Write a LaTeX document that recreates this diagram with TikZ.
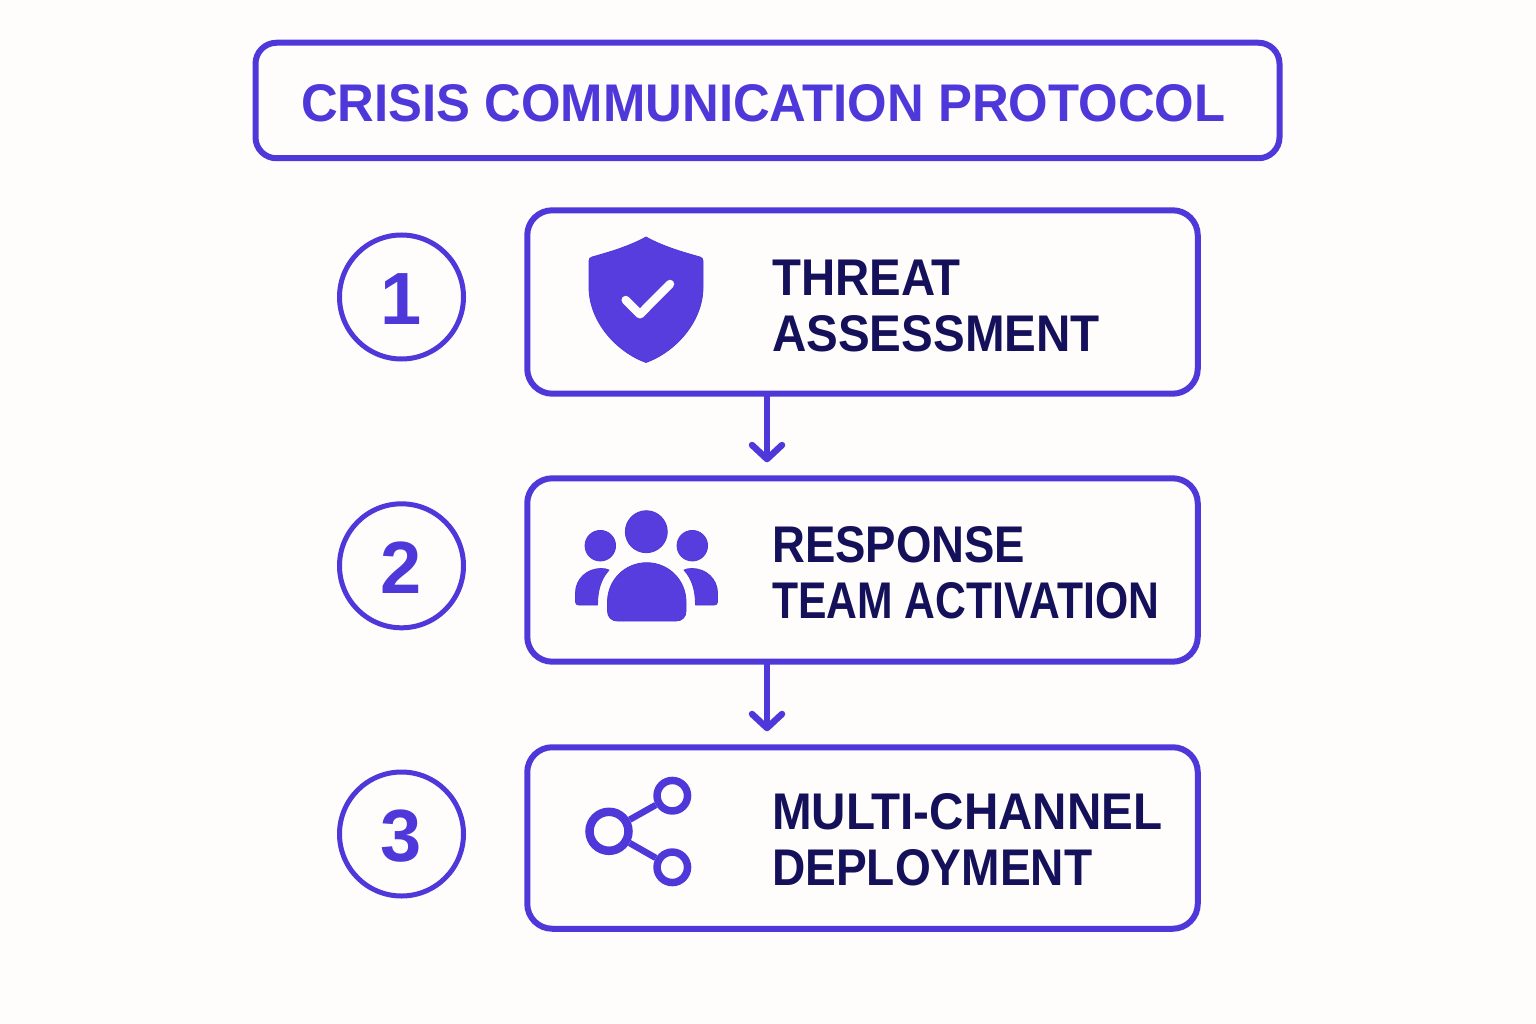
\documentclass[tikz,border=0pt]{standalone}
\usepackage{fontspec}
\usepackage{graphicx}
\setmainfont{Liberation Sans}
\usetikzlibrary{arrows.meta}
\definecolor{bgc}{HTML}{FEFDFB}
\definecolor{vio}{HTML}{4F38D9}
\definecolor{vfill}{HTML}{573DDD}
\definecolor{ink}{HTML}{15105A}
\newcommand{\fitline}[3]{\resizebox{#1pt}{#2pt}{\bfseries #3}}
\tikzset{
  x=1pt,y=-1pt,
  panel/.style={draw=vio,line width=6pt,rounded corners=25pt,fill=none,minimum width=670.5pt,minimum height=183.4pt,inner sep=0pt},
  titlebox/.style={draw=vio,line width=6pt,rounded corners=21pt,minimum width=1024pt,minimum height=115.5pt,inner sep=0pt},
  numring/.style={draw=vio,line width=5pt,circle,minimum size=124pt,inner sep=0pt,text=vio,text height=55pt,text depth=0pt,font=\fontsize{74}{74}\selectfont\bfseries},
  label/.style={anchor=west,align=left,inner sep=0pt,text=ink,font=\fontsize{45}{56}\selectfont},
  flow/.style={draw=vio,line width=6pt,line cap=round,-{Straight Barb[length=14pt,width=30pt,line width=6.5pt,round]},shorten >=13pt},
  iconfill/.style={fill=vfill,draw=vio,line width=.8pt,line join=round},
  sharebig/.style={circle,draw=vio,line width=8.5pt,minimum size=39pt,inner sep=0pt},
  sharesmall/.style={circle,draw=vio,line width=7.5pt,minimum size=30.5pt,inner sep=0pt},
  shareline/.style={draw=vio,line width=6.5pt},
}
\begin{document}
\begin{tikzpicture}
\fill[bgc] (0,0) rectangle (1536,1024);
\useasboundingbox (0,0) rectangle (1536,1024);

\node[titlebox] (title) at (767.5,100.5) {};
\node[anchor=base west,inner sep=0pt,text=vio] (titletext) at (301,122) {\fitline{924}{37}{CRISIS COMMUNICATION PROTOCOL}};

\node[panel] (box1) at (862.5,302) {};
\node[panel] (box2) at (862.5,570) {};
\node[panel,minimum height=181.5pt] (box3) at (862.5,838) {};

\node[numring] (n1) at (401.5,297) {1};
\node[numring] (n2) at (401.5,565.8) {2};
\node[numring] (n3) at (401.5,834) {3};

\coordinate (ax) at (767,0);
\draw[flow] (box1.south -| ax) -- (box2.north -| ax);
\draw[flow] (box2.south -| ax) -- (box3.north -| ax);

\node[label] (l1) at (772,305.5) {\fitline{188.5}{35.5}{THREAT}\\\fitline{327.5}{36}{ASSESSMENT}};
\node[label] (l2) at (772,572.3) {\fitline{253}{36}{RESPONSE}\\\fitline{387}{36}{TEAM ACTIVATION}};
\node[label] (l3) at (772,840) {\fitline{390}{36}{MULTI-CHANNEL}\\\fitline{320}{36}{DEPLOYMENT}};

% shield
\path[iconfill] (646,237) .. controls (662,246) and (682,252) .. (700,257)
  .. controls (702,257.5) and (703,259) .. (703,261)
  -- (703,287) .. controls (703,322) and (675,352) .. (646,362.5)
  .. controls (617,352) and (589,322) .. (589,287)
  -- (589,261) .. controls (589,259) and (590,257.5) .. (592,257)
  .. controls (610,252) and (630,246) .. (646,237) -- cycle;
\draw[bgc,line width=8.5pt,line cap=round,line join=round] (625.7,300) -- (640,314.3) -- (670,284);

% people
\path[iconfill] (646.3,531.7) circle[radius=21];
\path[iconfill] (600.3,545.7) circle[radius=15.3];
\path[iconfill] (692.3,545.7) circle[radius=15.3];
\path[iconfill] (607.5,602) .. controls (607.5,580) and (625,562.7) .. (646.7,562.7)
  .. controls (668.5,562.7) and (686,580) .. (686,602)
  -- (686,611) .. controls (686,617) and (682,621) .. (676,621)
  -- (617.5,621) .. controls (611.5,621) and (607.5,617) .. (607.5,611) -- cycle;
\path[iconfill] (575.5,593) .. controls (575.5,579) and (587,568.5) .. (601,568.5)
  .. controls (604,568.5) and (607,569) .. (609,570)
  .. controls (601,579) and (597.5,590) .. (597.5,605)
  -- (579,605) .. controls (577,605) and (575.5,604) .. (575.5,602) -- cycle;
\path[iconfill] (717.5,593) .. controls (717.5,579) and (706,568.5) .. (692,568.5)
  .. controls (689,568.5) and (686,569) .. (684,570)
  .. controls (692,579) and (695.5,590) .. (695.5,605)
  -- (714,605) .. controls (716,605) and (717.5,604) .. (717.5,602) -- cycle;

% share
\node[sharebig] (hub) at (609,831.3) {};
\node[sharesmall] (up) at (672.3,795.7) {};
\node[sharesmall] (down) at (672.3,867.3) {};
\draw[shareline] (hub) -- (up);
\draw[shareline] (hub) -- (down);
\end{tikzpicture}
\end{document}
